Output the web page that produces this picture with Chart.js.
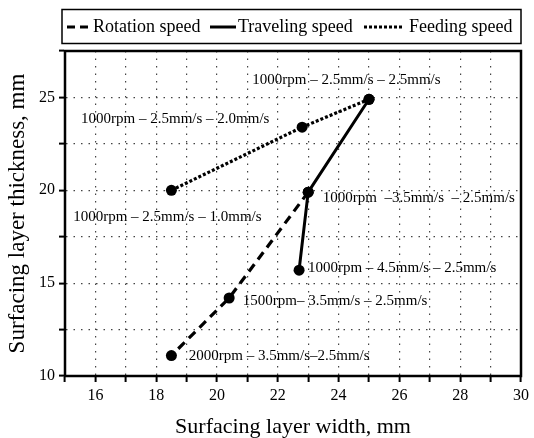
<!DOCTYPE html>
<html lang="en">
  <head>
    <meta charset="utf-8" />
    <title>Surfacing layer width vs thickness</title>
    <style>
      * {
        margin: 0;
        padding: 0;
      }
      body {
        background: white;
      }
      .chartBox {
        width: 534px;
        height: 438px;
      }
    </style>
  </head>
  <body>
    <div class="chartBox">
      <canvas id="myChart" width="534" height="438"></canvas>
    </div>

    <script src="https://cdn.jsdelivr.net/npm/chart.js"></script>

    <script>
      // data block
      const rotationX = [23.0, 20.4, 18.5];
      const rotationY = [19.9, 14.2, 11.1];
      const travelingX = [25.0, 23.0, 22.7];
      const travelingY = [24.9, 19.9, 15.7];
      const feedingX = [18.5, 22.8, 25.0];
      const feedingY = [20.0, 23.4, 24.9];

      const xTickLabels = [16, 18, 20, 22, 24, 26, 28, 30];
      const yTickLabels = [10, 15, 20, 25];

      // condition notes, anchored at data coordinates (left edge, middle)
      const noteTexts = [
        "1000rpm \u2013 2.5mm/s \u2013 2.5mm/s",
        "1000rpm \u2013 2.5mm/s \u2013 2.0mm/s",
        "1000rpm \u2013 2.5mm/s \u2013 1.0mm/s",
        "1000rpm  \u20133.5mm/s  \u2013 2.5mm/s",
        "1000rpm \u2013 4.5mm/s \u2013 2.5mm/s",
        "1500rpm\u2013 3.5mm/s \u2013 2.5mm/s",
        "2000rpm \u2013 3.5mm/s\u20132.5mm/s",
      ];
      const noteX = [21.16, 15.53, 15.27, 23.48, 22.99, 20.85, 19.07];
      const noteY = [25.92, 23.82, 18.56, 19.58, 15.81, 14.03, 11.1];

      const toPoints = (xs, ys) => xs.map((x, i) => ({ x, y: ys[i] }));

      const serif = "'Liberation Serif', 'Times New Roman', serif";

      const data = {
        datasets: [
          {
            label: "Rotation speed",
            data: toPoints(rotationX, rotationY),
            borderColor: "#000",
            backgroundColor: "#000",
            borderWidth: 3.2,
            borderDash: [9, 6],
            pointRadius: 5.5,
            pointBorderWidth: 0,
          },
          {
            label: "Traveling speed",
            data: toPoints(travelingX, travelingY),
            borderColor: "#000",
            backgroundColor: "#000",
            borderWidth: 3,
            borderDash: [],
            pointRadius: 5.5,
            pointBorderWidth: 0,
          },
          {
            label: "Feeding speed",
            data: toPoints(feedingX, feedingY),
            borderColor: "#000",
            backgroundColor: "#000",
            borderWidth: 3.2,
            borderDash: [3, 2],
            pointRadius: 5.5,
            pointBorderWidth: 0,
          },
        ],
      };

      // boxed legend drawn above the plot
      const boxLegend = {
        id: "boxLegend",
        afterDraw(chart) {
          const { ctx } = chart;
          const samples = [
            [67, 90, 93],
            [210, 236, 238],
            [364, 404, 409],
          ];
          ctx.save();
          ctx.strokeStyle = "#000";
          ctx.lineWidth = 1.5;
          ctx.strokeRect(62, 9.5, 459, 34);
          ctx.font = "18px " + serif;
          ctx.fillStyle = "#000";
          ctx.textBaseline = "middle";
          chart.data.datasets.forEach((ds, i) => {
            const [x0, x1, tx] = samples[i];
            ctx.beginPath();
            ctx.setLineDash(i === 0 ? [8, 5] : ds.borderDash);
            ctx.lineWidth = 3;
            ctx.moveTo(x0, 27);
            ctx.lineTo(x1, 27);
            ctx.stroke();
            ctx.setLineDash([]);
            ctx.fillText(ds.label, tx, 27);
          });
          ctx.restore();
        },
      };

      // condition notes + heavy frame
      const notesAndFrame = {
        id: "notesAndFrame",
        afterDatasetsDraw(chart) {
          const {
            ctx,
            chartArea: { top, bottom, left, right },
            scales: { x, y },
          } = chart;
          ctx.save();
          ctx.font = "15px " + serif;
          ctx.fillStyle = "#000";
          ctx.textBaseline = "middle";
          noteTexts.forEach((t, i) => {
            ctx.fillText(t, x.getPixelForValue(noteX[i]), y.getPixelForValue(noteY[i]));
          });
          ctx.strokeStyle = "#000";
          ctx.lineWidth = 2.5;
          ctx.strokeRect(left, top, right - left, bottom - top);
          ctx.restore();
        },
      };

      const config = {
        type: "line",
        data: data,
        options: {
          responsive: false,
          devicePixelRatio: 1,
          animation: false,
          layout: {
            padding: { top: 51, right: 13, left: 0, bottom: 0 },
          },
          scales: {
            x: {
              type: "linear",
              min: 15,
              max: 30,
              afterFit(scale) {
                scale.height = 62;
              },
              ticks: {
                stepSize: 1,
                autoSkip: false,
                maxRotation: 0,
                padding: 4,
                color: "#000",
                font: { family: serif, size: 16 },
                callback: (v) => (xTickLabels.includes(v) ? v : ""),
              },
              grid: {
                color: "#444",
                lineWidth: 1.2,
                tickColor: "#000",
                tickWidth: 2,
                tickLength: 6,
              },
              border: { color: "#000", width: 2, dash: [1.5, 6] },
              title: {
                display: true,
                text: "Surfacing layer width, mm",
                color: "#000",
                font: { family: serif, size: 22, lineHeight: 1 },
                padding: { top: 0, bottom: 0 },
              },
            },
            y: {
              min: 10,
              max: 27.5,
              afterFit(scale) {
                scale.width = 65;
              },
              ticks: {
                stepSize: 2.5,
                autoSkip: false,
                padding: 4,
                color: "#000",
                font: { family: serif, size: 16 },
                callback: (v) => (yTickLabels.includes(v) ? v : ""),
              },
              grid: {
                color: "#444",
                lineWidth: 1.2,
                tickColor: "#000",
                tickWidth: 2,
                tickLength: 6,
              },
              border: { color: "#000", width: 2, dash: [1.5, 6] },
              title: {
                display: true,
                text: "Surfacing layer thickness, mm",
                color: "#000",
                font: { family: serif, size: 23, lineHeight: 1 },
                padding: { top: 6, bottom: 0 },
              },
            },
          },
          plugins: {
            legend: { display: false },
            tooltip: { enabled: false },
          },
        },
        plugins: [boxLegend, notesAndFrame],
      };

      const myChart = new Chart(document.getElementById("myChart"), config);
    </script>
  </body>
</html>
